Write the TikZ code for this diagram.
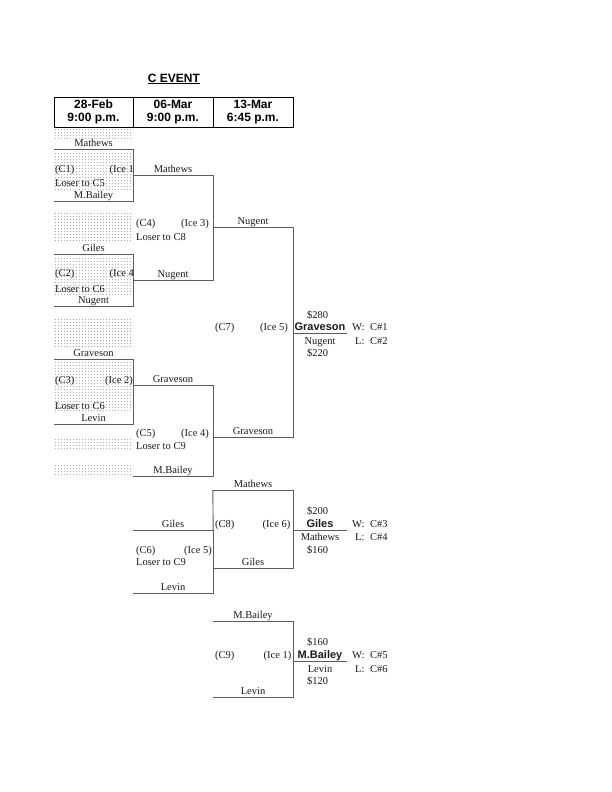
\documentclass[tikz,border=0pt]{standalone}
\usepackage{fontspec}
\setmainfont{Liberation Serif}
\newfontfamily\arialfont{Liberation Sans}
\usetikzlibrary{patterns.meta,positioning}
\definecolor{rule}{HTML}{5C5C5C}
\definecolor{ink}{HTML}{1A1A1A}
\tikzdeclarepattern{
  name=celldots, type=uncolored,
  bounding box={(0pt,0pt) and (3.2pt,3.2pt)},
  tile size={(3.2pt,3.2pt)},
  code={\fill (1.6pt,1.6pt) circle (.55pt);}
}
\tikzset{
  team/.style={font=\fontsize{10.5}{12}\selectfont, text=ink, inner sep=0pt,
    text height=7.5pt, text depth=2pt, anchor=south, minimum width=80pt},
  first/.style={team, minimum width=79pt},
  champ/.style={team, font=\arialfont\bfseries\fontsize{11}{12}\selectfont,
    minimum width=54pt},
  tag/.style={font=\fontsize{10.5}{12}\selectfont, text=ink, inner sep=0pt,
    anchor=base west},
  tagr/.style={tag, anchor=base east},
  cell/.style={draw=black, line width=.8pt, minimum height=30pt, inner sep=0pt,
    outer sep=0pt, align=center, font=\arialfont\bfseries\fontsize{12}{13.5}\selectfont},
  line/.style={draw=rule, line width=.9pt},
  shade/.style={pattern=celldots, pattern color=black!70}
}
\begin{document}
\begin{tikzpicture}[x=1pt,y=-1pt]
  \useasboundingbox (0,0) rectangle (612,792);

  % dotted cells of the first column
  \foreach \ya/\yb in {128/138,151/191,211/242,256/295,319/348,361/411,439/449,465/475}
    \fill[shade] (54,\ya) rectangle (133,\yb);

  % title and dates
  \node[font=\arialfont\bfseries\fontsize{12}{13.5}\selectfont] (title) at (174,79) {\underline{C EVENT}};
  \node[cell,minimum width=79pt] (d1) at (93.5,112) {28-Feb\\9:00 p.m.};
  \node[cell,minimum width=80pt,right=0pt of d1] (d2) {06-Mar\\9:00 p.m.};
  \node[cell,minimum width=80pt,right=0pt of d2] (d3) {13-Mar\\6:45 p.m.};

  % first round
  \node[first] (a1) at (93.5,149) {Mathews};
  \node[first] (a2) at (93.5,201) {M.Bailey};
  \node[first] (a3) at (93.5,254) {Giles};
  \node[first] (a4) at (93.5,306) {Nugent};
  \node[first] (a5) at (93.5,359) {Graveson};
  \node[first] (a6) at (93.5,424) {Levin};

  % second column
  \node[team] (b1) at (173,175) {Mathews};
  \node[team] (b2) at (173,280) {Nugent};
  \node[team] (b3) at (173,385) {Graveson};
  \node[team] (b4) at (173,476) {M.Bailey};
  \node[team] (b5) at (173,530) {Giles};
  \node[team] (b6) at (173,593) {Levin};

  % third column
  \node[team] (c1) at (253,227) {Nugent};
  \node[team] (c2) at (253,437) {Graveson};
  \node[team] (c3) at (253,490) {Mathews};
  \node[team] (c4) at (253,568) {Giles};
  \node[team] (c5) at (253,621) {M.Bailey};
  \node[team] (c6) at (253,697) {Levin};

  % finals
  \node[champ] (f1) at (320,333) {Graveson};
  \node[champ] (f2) at (320,530) {Giles};
  \node[champ] (f3) at (320,661) {M.Bailey};

  % brackets
  \draw[line] (a1.south west) -| (a2.south east) -- (a2.south west);
  \draw[line] (a3.south west) -| (a4.south east) -- (a4.south west);
  \draw[line] (a5.south west) -| (a6.south east) -- (a6.south west);
  \draw[line] (b1.south west) -| (b2.south east) -- (b2.south west);
  \draw[line] (b3.south west) -| (b4.south east) -- (b4.south west);
  \draw[line] (b5.south west) -| (b6.south east) -- (b6.south west);
  \draw[line] (c3.south west) -- (b5.south east);
  \draw[line] (c1.south west) -| (c2.south east) -- (c2.south west);
  \draw[line] (c3.south west) -| (c4.south east) -- (c4.south west);
  \draw[line] (c5.south west) -| (c6.south east) -- (c6.south west);
  \draw[line] (f1.south west) -- (f1.south east);
  \draw[line] (f2.south west) -- (f2.south east);
  \draw[line] (f3.south west) -- (f3.south east);

  % game labels
  \node[tag]  (g1)  at (55,172) {(C1)};
  \node[tagr] (i1)  at (134,172) {(Ice 1};
  \node[tag]  (l1)  at (55,186) {Loser to C5};
  \node[tag]  (g4)  at (136,226) {(C4)};
  \node[tagr] (i4)  at (209,226) {(Ice 3)};
  \node[tag]  (l4)  at (136,240) {Loser to C8};
  \node[tag]  (g2)  at (55,276) {(C2)};
  \node[tagr] (i2)  at (134,276) {(Ice 4};
  \node[tag]  (l2)  at (55,292) {Loser to C6};
  \node[tag]  (g7)  at (215,330) {(C7)};
  \node[tagr] (i7)  at (288,330) {(Ice 5)};
  \node[tag]  (g3)  at (55,383) {(C3)};
  \node[tagr] (i3)  at (133,383) {(Ice 2)};
  \node[tag]  (l3)  at (55,409.5) {Loser to C6};
  \node[tag]  (g5)  at (136,436.5) {(C5)};
  \node[tagr] (i5)  at (209,436.5) {(Ice 4)};
  \node[tag]  (l5)  at (136,449) {Loser to C9};
  \node[tag]  (g8)  at (215,527) {(C8)};
  \node[tagr] (i8)  at (290.5,527) {(Ice 6)};
  \node[tag]  (g6)  at (136,553.5) {(C6)};
  \node[tagr] (i6)  at (212,553.5) {(Ice 5)};
  \node[tag]  (l6)  at (136,565) {Loser to C9};
  \node[tag]  (g9)  at (215,658) {(C9)};
  \node[tagr] (i9)  at (291.5,658) {(Ice 1)};

  % prizes and placings
  \node[tag] (p1) at (307,318) {\$280};
  \node[team,anchor=base,minimum width=0pt] (r1) at (320,344) {Nugent};
  \node[tag] (q1) at (307,356) {\$220};
  \node[tag] (w1) at (352,330) {W:\hspace{5.5pt}C\#1};
  \node[tag] (x1) at (355,344) {L:\hspace{5.5pt}C\#2};
  \node[tag] (p2) at (307,514) {\$200};
  \node[team,anchor=base,minimum width=0pt] (r2) at (320,540) {Mathews};
  \node[tag] (q2) at (307,553) {\$160};
  \node[tag] (w2) at (352,527) {W:\hspace{5.5pt}C\#3};
  \node[tag] (x2) at (355,540) {L:\hspace{5.5pt}C\#4};
  \node[tag] (p3) at (307,645) {\$160};
  \node[team,anchor=base,minimum width=0pt] (r3) at (320,672) {Levin};
  \node[tag] (q3) at (307,684) {\$120};
  \node[tag] (w3) at (352,658) {W:\hspace{5.5pt}C\#5};
  \node[tag] (x3) at (355,672) {L:\hspace{5.5pt}C\#6};
\end{tikzpicture}
\end{document}
